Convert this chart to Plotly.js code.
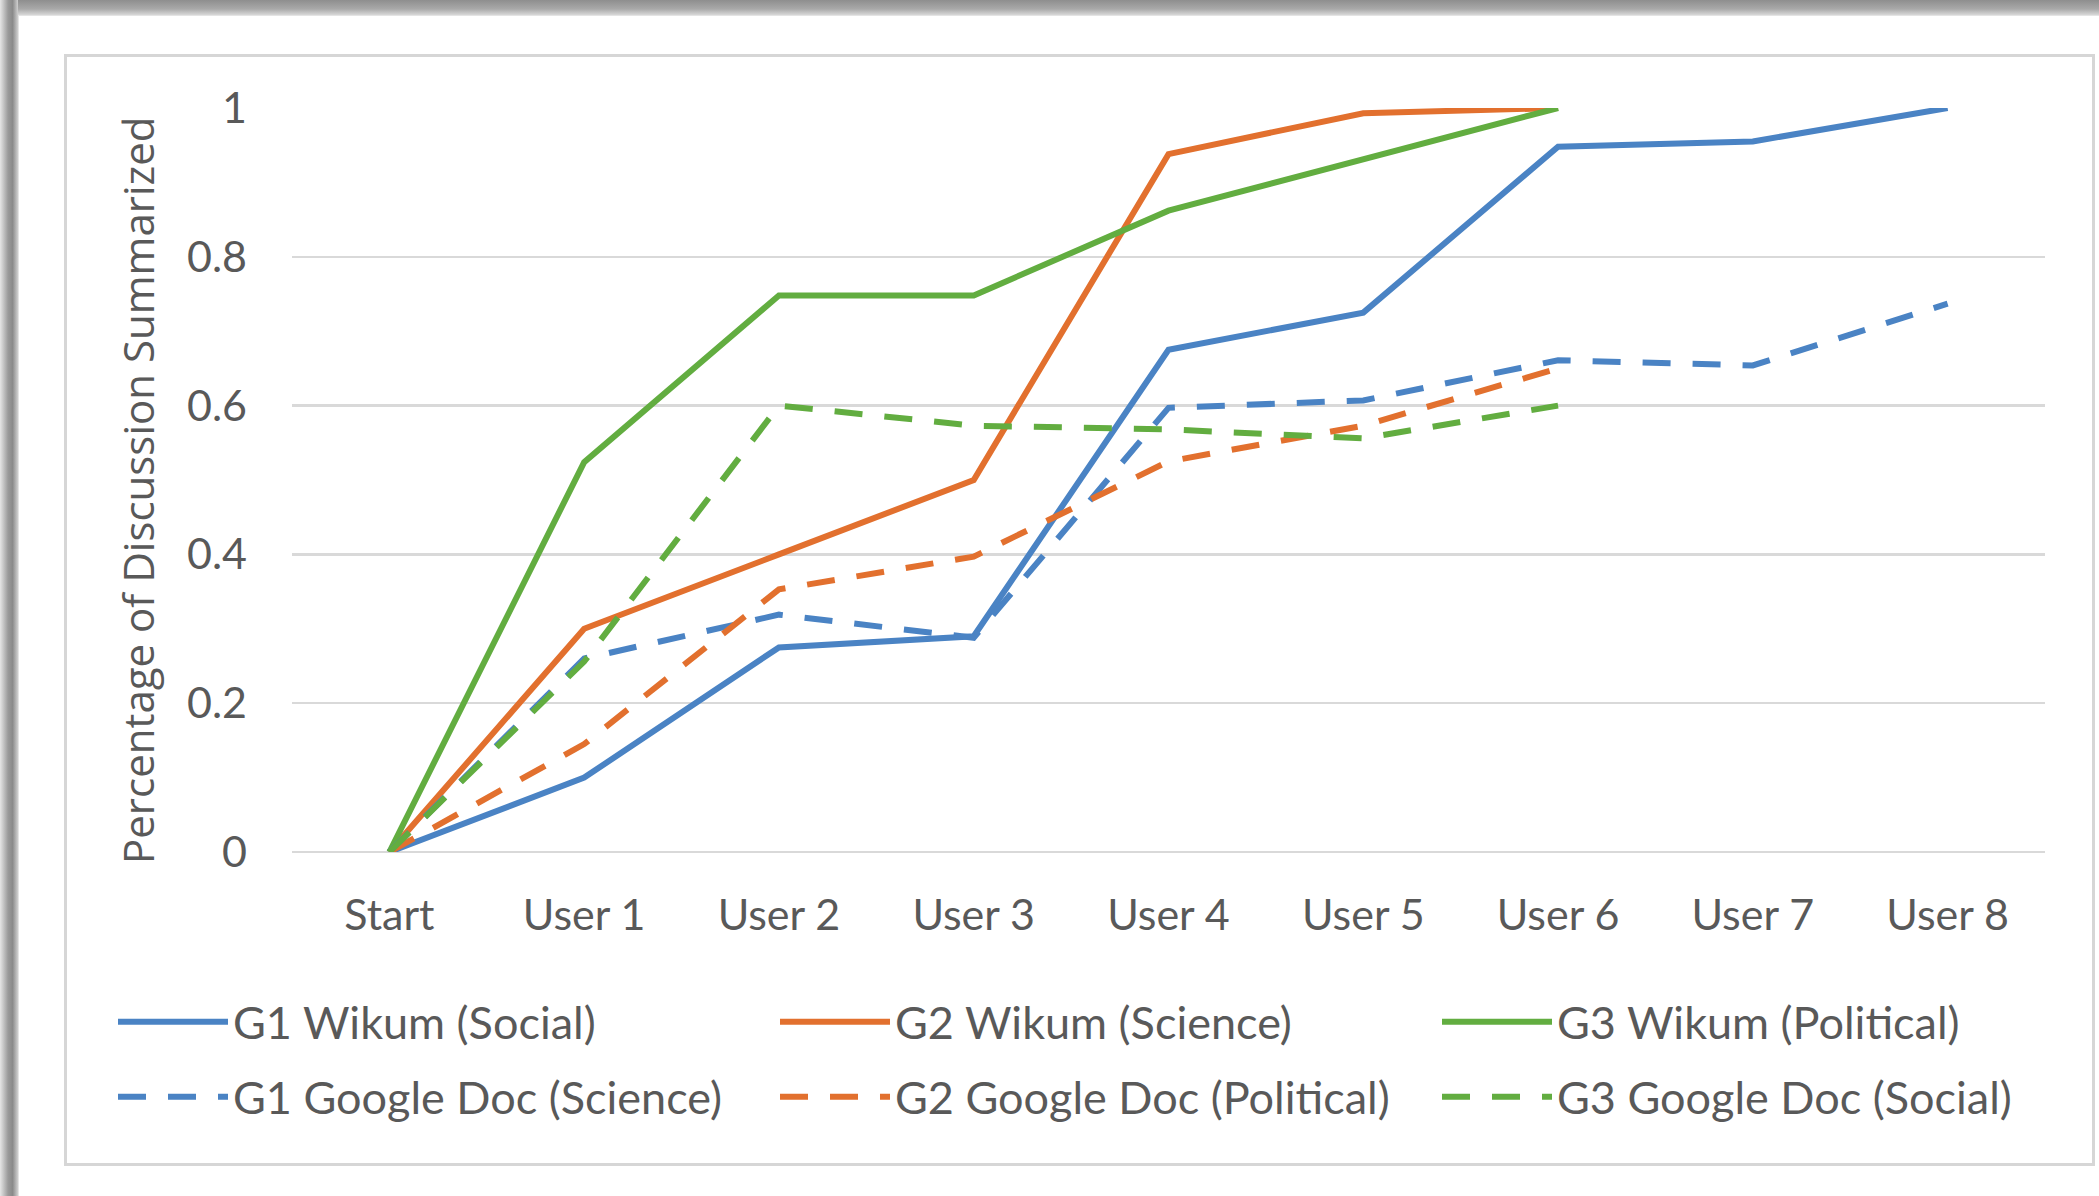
<!DOCTYPE html>
<html>
<head>
<meta charset="utf-8">
<script src="https://cdn.plot.ly/plotly-3.0.1.min.js"></script>
<style>
  html, body { margin:0; padding:0; background:#ffffff; }
  #wrap { position:relative; width:2099px; height:1196px; overflow:hidden; background:#ffffff; }
  #topband { position:absolute; left:0; top:0; width:2099px; height:15px;
    background:linear-gradient(to bottom, #8e8e8e, #a9a9a9 60%, #d8d8d8); }
  #leftband { position:absolute; left:0; top:0; width:18px; height:1196px;
    background:linear-gradient(to right, #e6e6e6, #9a9a9a 45%, #8a8a8a 70%, #d0d0d0); }
  #outer { position:absolute; left:18px; top:15px; width:2081px; height:1181px; border-left:1px solid #e4e4e4; border-top:1px solid #e4e4e4; box-sizing:border-box; }
  #box { position:absolute; left:64px; top:54px; width:2031px; height:1112px; border:3px solid #d6d6d6; box-sizing:border-box; }
  #chart { position:absolute; left:0; top:0; width:2099px; height:1196px; }
</style>
</head>
<body>
<div id="wrap">
  <div id="topband"></div>
  <div id="leftband"></div>
  <div id="outer"></div>
  <div id="box"></div>
  <div id="chart"></div>
</div>
<script>
// ---- data ----
var categories = ['Start', 'User 1', 'User 2', 'User 3', 'User 4', 'User 5', 'User 6', 'User 7', 'User 8'];

var g1Wikum = [0, 0.10, 0.275, 0.29, 0.675, 0.725, 0.948, 0.955, 1.0];
var g2Wikum = [0, 0.30, 0.40, 0.50, 0.938, 0.993, 1.0];
var g3Wikum = [0, 0.524, 0.748, 0.748, 0.862, 0.932, 1.0];
var g1Doc   = [0, 0.26, 0.319, 0.288, 0.597, 0.607, 0.661, 0.654, 0.737];
var g2Doc   = [0, 0.145, 0.353, 0.397, 0.525, 0.573, 0.65];
var g3Doc   = [0, 0.256, 0.60, 0.573, 0.568, 0.556, 0.60];

var seriesNames = ['G1 Wikum (Social)', 'G2 Wikum (Science)', 'G3 Wikum (Political)',
                   'G1 Google Doc (Science)', 'G2 Google Doc (Political)', 'G3 Google Doc (Social)'];
var yTickVals = [0, 0.2, 0.4, 0.6, 0.8, 1];
var yTickText = ['0', '0.2', '0.4', '0.6', '0.8', '1'];
var yTitle = 'Percentage of Discussion Summarized';

// ---- styles ----
var BLUE = '#4A83C4', ORANGE = '#E2702E', GREEN = '#62AD40';
var FONT = 'Lato, "Open Sans", "DejaVu Sans", sans-serif';
var TITLEFONT = '"Open Sans", Lato, sans-serif';
var TXT = '#595959';
var DASH = '28px,22px';

function mk(vals, name, color, dash, legendId) {
  return {
    type: 'scatter', mode: 'lines',
    x: categories.slice(0, vals.length), y: vals,
    name: name, legend: legendId,
    line: { color: color, width: 6, dash: dash, shape: 'linear' },
    hoverinfo: 'skip'
  };
}

var traces = [
  mk(g1Wikum, seriesNames[0], BLUE, 'solid', 'legend'),
  mk(g2Wikum, seriesNames[1], ORANGE, 'solid', 'legend'),
  mk(g3Wikum, seriesNames[2], GREEN, 'solid', 'legend'),
  mk(g1Doc, seriesNames[3], BLUE, DASH, 'legend2'),
  mk(g2Doc, seriesNames[4], ORANGE, DASH, 'legend2'),
  mk(g3Doc, seriesNames[5], GREEN, DASH, 'legend2')
];

var W = 2099, H = 1196;
var M = { l: 292, r: 54, t: 108, b: 344 };
var PW = W - M.l - M.r, PH = H - M.t - M.b;
function px2x(px) { return (px - M.l) / PW; }
function py2y(py) { return (M.t + PH - py) / PH; }

var ITEMW = 110;
var legendCommon = {
  orientation: 'h', xanchor: 'left', yanchor: 'middle',
  font: { family: FONT, size: 45, color: TXT },
  bgcolor: 'rgba(0,0,0,0)', borderwidth: 0,
  entrywidth: 662 - ITEMW - 15, entrywidthmode: 'pixels',
  itemwidth: ITEMW, traceorder: 'normal',
  itemclick: false, itemdoubleclick: false
};

var layout = {
  width: W, height: H,
  margin: M,
  paper_bgcolor: 'rgba(0,0,0,0)',
  plot_bgcolor: 'rgba(0,0,0,0)',
  showlegend: true,
  font: { family: FONT, color: TXT },
  xaxis: {
    type: 'category', categoryorder: 'array', categoryarray: categories,
    range: [-0.5, 8.5],
    showgrid: false, zeroline: false, showline: false, ticks: '',
    tickfont: { family: FONT, size: 43, color: TXT },
    ticklabelstandoff: 34, fixedrange: true
  },
  yaxis: {
    range: [0, 1],
    tickvals: yTickVals, ticktext: yTickText,
    showgrid: true, gridcolor: '#d9d9d9', gridwidth: 2.5,
    zeroline: true, zerolinecolor: '#d9d9d9', zerolinewidth: 2.5,
    showline: false, ticks: '',
    tickfont: { family: FONT, size: 43, color: TXT },
    ticklabelstandoff: 44, fixedrange: true
  },
  legend: Object.assign({}, legendCommon, { x: px2x(131), y: py2y(1022) }),
  legend2: Object.assign({}, legendCommon, { x: px2x(131), y: py2y(1097) }),
  annotations: [{
    text: yTitle, xref: 'paper', yref: 'paper',
    x: px2x(137), y: py2y(490), xanchor: 'center', yanchor: 'middle',
    textangle: -90, showarrow: false,
    font: { family: TITLEFONT, size: 42, color: TXT }
  }]
};

Plotly.newPlot('chart', traces, layout, { displayModeBar: false, staticPlot: true });
</script>
</body>
</html>
